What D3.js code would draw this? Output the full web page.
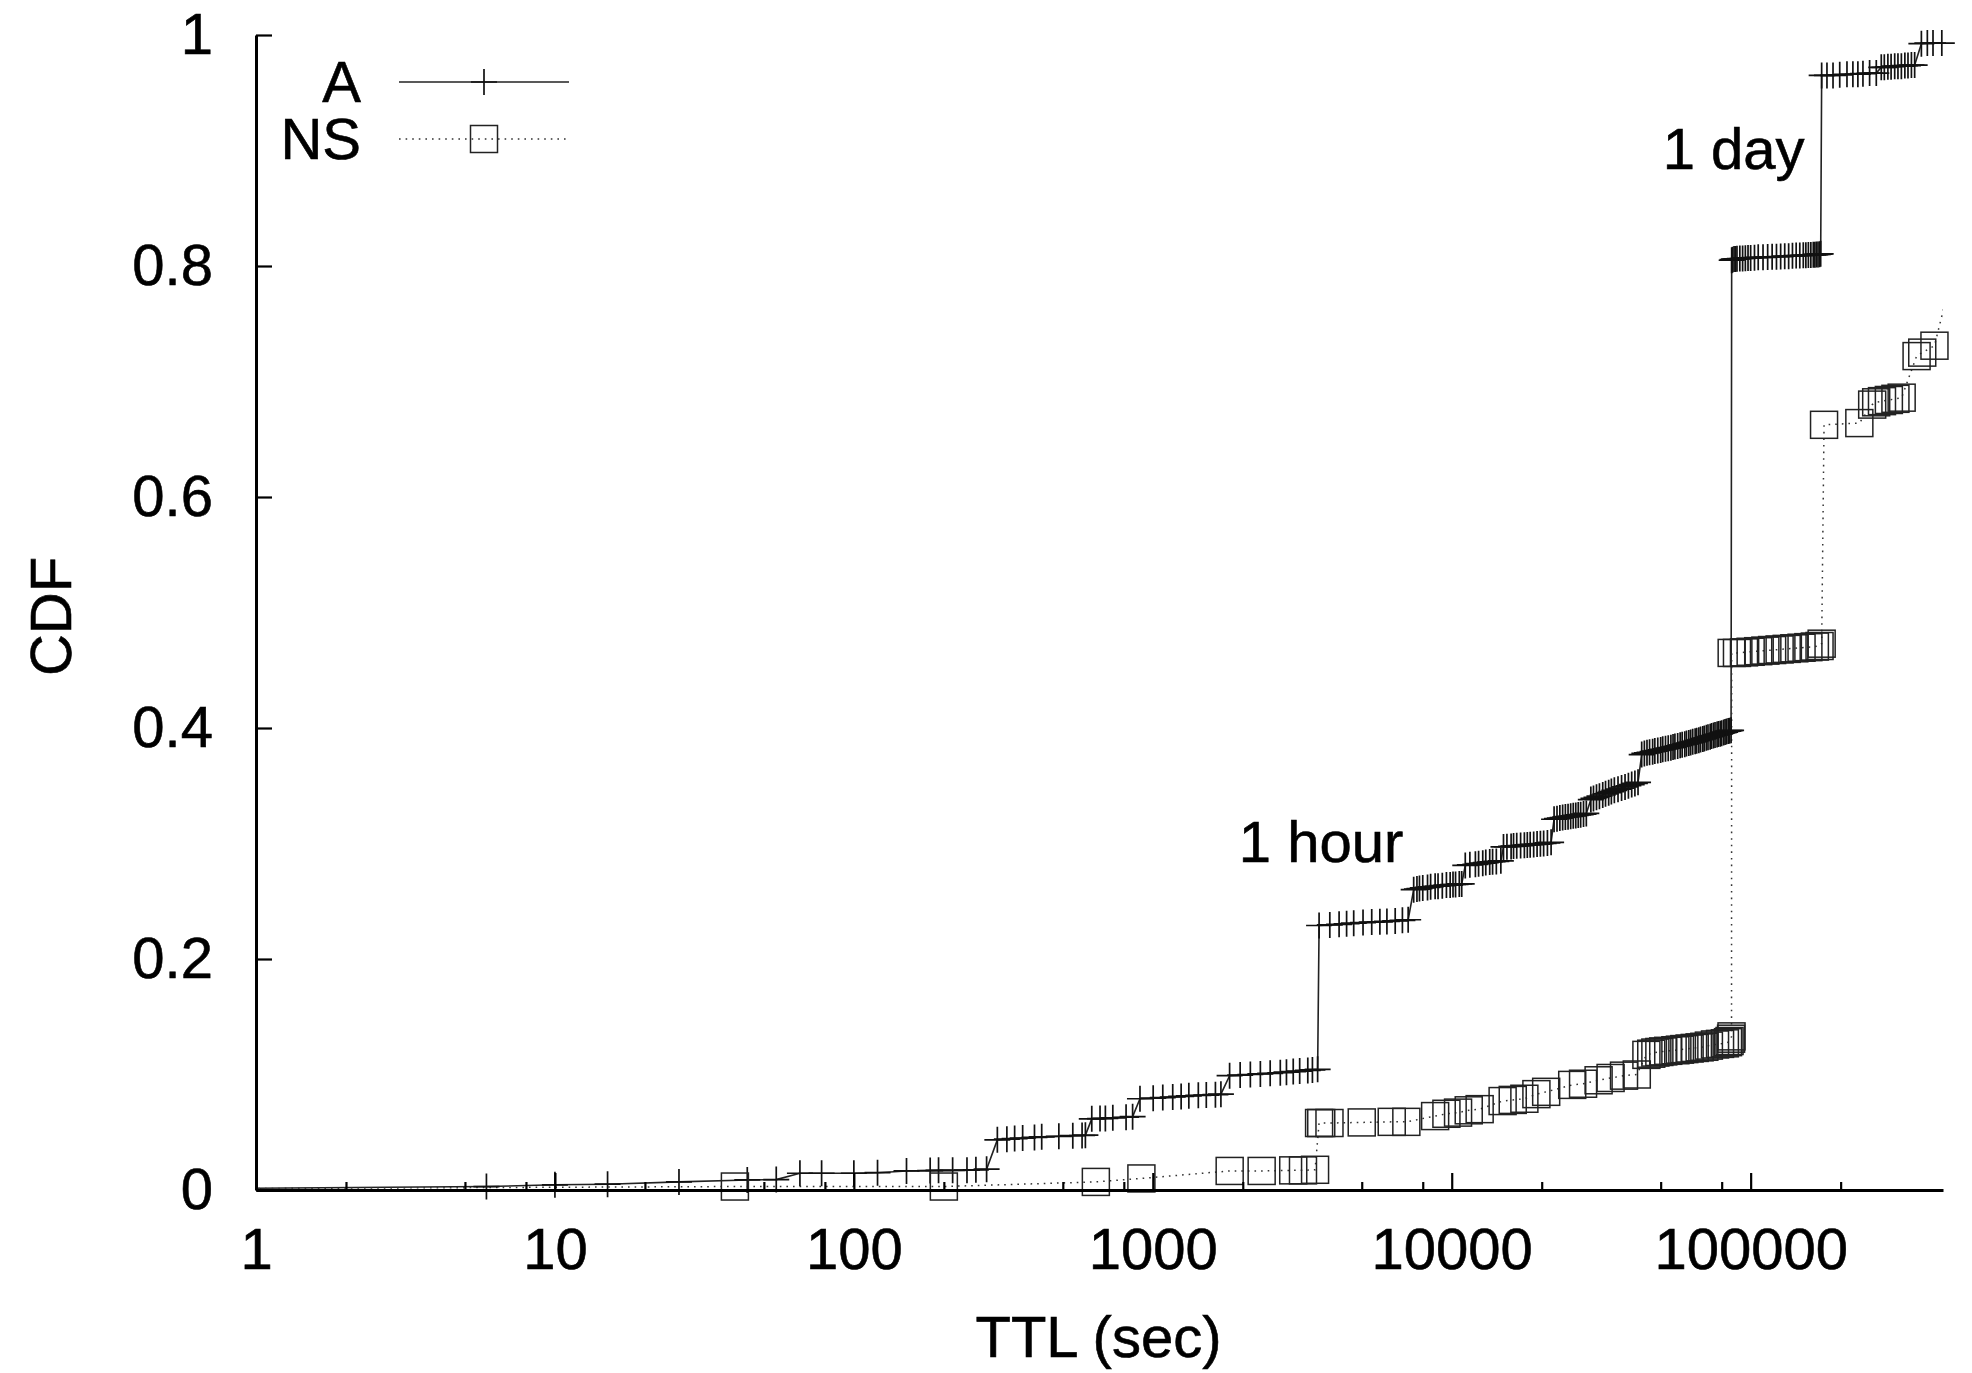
<!DOCTYPE html>
<html>
<head>
<meta charset="utf-8">
<script src="https://cdn.jsdelivr.net/npm/d3@7"></script>
<style>
  html, body { margin: 0; padding: 0; background: #fff; }
  text { font-family: "Liberation Sans", Arial, Helvetica, sans-serif; fill: #000; }
</style>
</head>
<body>
<svg id="chart" width="1972" height="1373"></svg>
<script>
// ---------- data ----------
const seriesNames = ["A", "NS"];

const aTTL = [0.5, 5.9, 10, 15, 26, 44, 55, 66, 78, 100, 120, 150, 180, 192, 214, 239, 256, 278,
  302, 325, 345, 367, 402, 425, 485, 540, 580, 595,
  625, 666, 694, 735, 814, 856,
  906, 1003, 1080, 1166, 1244, 1320, 1420, 1510, 1620, 1690,
  1807, 1960, 2120, 2290, 2470, 2670, 2800, 2950, 3100, 3300, 3420, 3560,
  3600, 3910, 4200, 4450, 4700, 5050, 5400, 5750, 6070, 6470, 6840, 7150,
  7460, 7650, 7800, 8000, 8300, 8500, 8800, 9000, 9300, 9600, 9880, 10100, 10300, 10600, 10800,
  11100, 11500, 12000, 12300, 12700, 13000, 13400, 13700, 14100, 14600,
  14900, 15300, 15800, 16100, 16500, 17000, 17500, 17900, 18300, 18800, 19300, 19800, 20300, 20900, 21500,
  22000, 22500, 23000, 23500, 24000, 24500, 25000, 25500, 26000, 26500, 27000, 27600, 28200,
  29200, 29800, 30500, 31200, 32000, 32700, 33500, 34200, 35000, 36000, 37000, 38000, 39000, 40000, 41000, 42000,
  43200, 44100, 45000, 45900, 47000, 47800, 48900, 50000, 50800, 51900, 53000, 54100, 55000, 55800,
  57000, 58100, 59000, 60200, 61000, 62100, 63000, 64000, 65200, 66000, 67100, 68000, 69200, 70000,
  71100, 72000, 73200, 74000, 75100, 76000, 77200, 78000, 79100, 80000, 81200, 82100, 83000, 84100, 85000, 86000,
  86400, 87000, 88000, 89000, 90000, 92000, 94000, 96000, 98000, 100000, 103000, 106000, 110000, 114000,
  118000, 122000, 126000, 130000, 134000, 138000, 142000, 146000, 150000, 153000, 156000, 159000, 162000,
  164000, 166000, 168000, 170000, 171500,
  172800, 180000, 188600, 198600, 210000, 219800, 228400, 237500, 250000, 263200, 273500, 280000, 287800,
  295000, 303300, 311000, 319300, 328000, 336000, 345000, 353700, 372500, 390000, 407400, 436000];

const aCDF = [0.001, 0.003, 0.0045, 0.005, 0.007, 0.0087, 0.009, 0.0145, 0.0145, 0.0145, 0.015, 0.0165, 0.0168, 0.017, 0.017, 0.0172, 0.0175, 0.018,
  0.0434, 0.044, 0.0445, 0.045, 0.0455, 0.046, 0.0465, 0.047, 0.0472, 0.0475,
  0.0616, 0.0618, 0.062, 0.0625, 0.063, 0.0635,
  0.079, 0.0795, 0.080, 0.0805, 0.081, 0.0815, 0.082, 0.0822, 0.0825, 0.083,
  0.099, 0.0995, 0.100, 0.1005, 0.101, 0.1015, 0.102, 0.1025, 0.103, 0.1035, 0.104, 0.1045,
  0.229, 0.2295, 0.230, 0.2305, 0.231, 0.2315, 0.232, 0.2322, 0.2325, 0.233, 0.2335, 0.234,
  0.260, 0.2605, 0.261, 0.2615, 0.262, 0.2625, 0.263, 0.263, 0.2635, 0.264, 0.264, 0.2645, 0.2645, 0.265, 0.265,
  0.281, 0.2815, 0.282, 0.2825, 0.283, 0.2835, 0.284, 0.2842, 0.2845, 0.285,
  0.297, 0.2972, 0.2975, 0.2978, 0.298, 0.2982, 0.2985, 0.2988, 0.299, 0.2992, 0.2995, 0.2998, 0.300, 0.3005, 0.301,
  0.321, 0.3215, 0.322, 0.3225, 0.323, 0.3232, 0.3235, 0.324, 0.3243, 0.3247, 0.325, 0.3255, 0.326,
  0.338, 0.339, 0.340, 0.341, 0.342, 0.343, 0.344, 0.345, 0.346, 0.347, 0.348, 0.349, 0.350, 0.351, 0.352, 0.353,
  0.377, 0.378, 0.3785, 0.379, 0.3795, 0.380, 0.3805, 0.381, 0.3815, 0.382, 0.3825, 0.383, 0.3835, 0.384,
  0.3845, 0.385, 0.3855, 0.386, 0.3865, 0.387, 0.3875, 0.388, 0.3885, 0.389, 0.3895, 0.390, 0.3905, 0.391,
  0.3915, 0.392, 0.3925, 0.393, 0.3935, 0.394, 0.3943, 0.3947, 0.395, 0.3955, 0.396, 0.3965, 0.397, 0.3973, 0.3977, 0.398,
  0.805, 0.8055, 0.806, 0.806, 0.8062, 0.8065, 0.8065, 0.8068, 0.807, 0.807, 0.8072, 0.8075, 0.8075, 0.8078,
  0.808, 0.808, 0.8082, 0.8085, 0.8085, 0.8088, 0.809, 0.809, 0.8092, 0.8093, 0.8095, 0.8095, 0.8097,
  0.8098, 0.810, 0.810, 0.8102, 0.8105,
  0.965, 0.965, 0.965, 0.9655, 0.966, 0.966, 0.966, 0.9665, 0.967, 0.967, 0.972, 0.972, 0.9725,
  0.9725, 0.973, 0.973, 0.973, 0.9735, 0.9735, 0.974, 0.974, 0.9925, 0.993, 0.993, 0.993];

const nsTTL = [0.5, 40, 200, 645, 916, 1808, 2313, 2950, 3180, 3490,
  3600, 3660, 3900, 5000, 6300, 7050,
  8800, 9600, 10500, 11400, 12400,
  14800, 16000, 17500, 19200, 20700,
  25300, 27500, 31000, 34000, 37700, 41600,
  44800, 46500, 48000, 49500, 51000, 53000, 56000, 58000, 60000, 62500, 65000, 67500, 70000, 72500,
  76000, 79000, 82000, 84000, 85000, 86000, 86300,
  86400, 90000, 95000, 100000, 106000, 112000, 118000, 125000, 132000, 140000,
  148000, 156000, 164000, 170000, 172800,
  176000, 231000, 255000, 263000, 275000, 290000, 305000, 320000, 359000, 375000, 412000, 604800];

const nsCDF = [0.001, 0.003, 0.003, 0.007, 0.010, 0.0165, 0.0165, 0.017, 0.017, 0.0175,
  0.058, 0.058, 0.058, 0.0585, 0.059, 0.059,
  0.064, 0.066, 0.067, 0.069, 0.070,
  0.077, 0.078, 0.079, 0.083, 0.085,
  0.091, 0.092, 0.095, 0.097, 0.099, 0.100,
  0.117, 0.118, 0.119, 0.1195, 0.120, 0.1205, 0.121, 0.1215, 0.122, 0.1225, 0.123, 0.1235, 0.124, 0.125,
  0.126, 0.1265, 0.127, 0.128, 0.129, 0.131, 0.133,
  0.465, 0.465, 0.4655, 0.466, 0.4665, 0.467, 0.4675, 0.468, 0.4685, 0.469,
  0.4695, 0.470, 0.4705, 0.471, 0.473,
  0.6625, 0.664, 0.680, 0.682, 0.683, 0.684, 0.685, 0.686, 0.722, 0.725, 0.731, 0.905];

const xMajorTicks = [1, 10, 100, 1000, 10000, 100000];
const xMajorLabels = ["1", "10", "100", "1000", "10000", "100000"];
const xMinorTicks = [2, 5, 8, 20, 50, 80, 200, 500, 800, 2000, 5000, 8000, 20000, 50000, 80000, 200000];
const yTicks = [0, 0.2, 0.4, 0.6, 0.8, 1];
const yTickLabels = ["0", "0.2", "0.4", "0.6", "0.8", "1"];
const xDomain = [1, 440000];
const xTitle = "TTL (sec)";
const yTitle = "CDF";
const notes = [{ text: "1 hour", ttl: 1940, cdf: 0.284 }, { text: "1 day", ttl: 50800, cdf: 0.8837 }];

// ---------- layout ----------
const svg = d3.select("#chart");
const mLeft = 256, mRight = 1943, mTop = 35, mBottom = 1190;
const FONT = 58;

const x = d3.scaleLog().domain(xDomain).range([mLeft, mRight]);
const y = d3.scaleLinear().domain([0, 1]).range([mBottom, mTop]);

svg.append("rect").attr("width", 1972).attr("height", 1373).attr("fill", "#fff");

svg.append("defs").append("clipPath").attr("id", "plotclip")
  .append("rect").attr("x", mLeft).attr("y", 0).attr("width", mRight - mLeft).attr("height", mBottom);

const aData = d3.zip(aTTL, aCDF);
const nsData = d3.zip(nsTTL, nsCDF);
const inRange = d => d[0] >= xDomain[0] && d[0] <= xDomain[1];

const line = d3.line().x(d => x(d[0])).y(d => y(d[1]));
const plot = svg.append("g").attr("clip-path", "url(#plotclip)");

// A series
plot.append("path").datum(aData).attr("d", line)
  .attr("fill", "none").attr("stroke", "#222").attr("stroke-width", 1.6);
const plusPath = "M-13,0H13M0,-13V13";
svg.append("g").selectAll("path").data(aData.filter(inRange)).join("path")
  .attr("transform", d => `translate(${x(d[0])},${y(d[1])})`)
  .attr("d", plusPath).attr("fill", "none").attr("stroke", "#111").attr("stroke-width", 1.7);

// NS series
plot.append("path").datum(nsData).attr("d", line)
  .attr("fill", "none").attr("stroke", "#333").attr("stroke-width", 1.5)
  .attr("stroke-dasharray", "1.6,5");
svg.append("g").selectAll("rect").data(nsData.filter(inRange)).join("rect")
  .attr("x", d => x(d[0]) - 13.5).attr("y", d => y(d[1]) - 13.5)
  .attr("width", 27).attr("height", 27)
  .attr("fill", "none").attr("stroke", "#222").attr("stroke-width", 1.5);

// ---------- axes ----------
const xAxis = d3.axisBottom(x).tickValues(xMajorTicks)
  .tickFormat((d, i) => xMajorLabels[i])
  .tickSizeInner(-17).tickSizeOuter(0).tickPadding(38);
const gx = svg.append("g").attr("transform", `translate(0,${mBottom})`).call(xAxis);
gx.select(".domain").attr("stroke", "#000").attr("stroke-width", 3);
gx.selectAll(".tick line").attr("stroke", "#000").attr("stroke-width", 2.2);
gx.selectAll(".tick text").attr("font-size", FONT).attr("font-family", "Liberation Sans, Arial, sans-serif")
  .attr("stroke", "#000").attr("stroke-width", 0.6);

const xMinorAxis = d3.axisBottom(x).tickValues(xMinorTicks).tickFormat("")
  .tickSizeInner(-8).tickSizeOuter(0);
const gxm = svg.append("g").attr("transform", `translate(0,${mBottom})`).call(xMinorAxis);
gxm.select(".domain").remove();
gxm.selectAll(".tick line").attr("stroke", "#000").attr("stroke-width", 2.2);

const yAxis = d3.axisLeft(y).tickValues(yTicks)
  .tickFormat((d, i) => yTickLabels[i])
  .tickSizeInner(-16).tickSizeOuter(0).tickPadding(43);
const gy = svg.append("g").attr("transform", `translate(${mLeft},0)`).call(yAxis);
gy.select(".domain").attr("stroke", "#000").attr("stroke-width", 3);
gy.selectAll(".tick line").attr("stroke", "#000").attr("stroke-width", 2.2);
gy.selectAll(".tick text").attr("font-size", FONT).attr("font-family", "Liberation Sans, Arial, sans-serif")
  .attr("stroke", "#000").attr("stroke-width", 0.6);

// titles
svg.append("text").attr("x", (mLeft + mRight) / 2 - 1).attr("y", 1357)
  .attr("text-anchor", "middle").attr("font-size", FONT)
  .attr("stroke", "#000").attr("stroke-width", 0.6).text(xTitle);
svg.append("text").attr("transform", `translate(71,${(mTop + mBottom) / 2 + 4}) rotate(-90)`)
  .attr("text-anchor", "middle").attr("font-size", FONT)
  .attr("stroke", "#000").attr("stroke-width", 0.6).text(yTitle);

// annotations
svg.append("g").selectAll("text").data(notes).join("text")
  .attr("x", d => x(d.ttl)).attr("y", d => y(d.cdf))
  .attr("font-size", FONT).attr("stroke", "#000").attr("stroke-width", 0.6).text(d => d.text);

// ---------- legend ----------
const legend = svg.append("g");
const legY = [82, 139];
legend.selectAll("text").data(seriesNames).join("text")
  .attr("x", 361).attr("y", (d, i) => legY[i] + 20)
  .attr("text-anchor", "end").attr("font-size", FONT)
  .attr("stroke", "#000").attr("stroke-width", 0.6).text(d => d);
legend.append("line").attr("x1", 399).attr("x2", 569).attr("y1", legY[0]).attr("y2", legY[0])
  .attr("stroke", "#222").attr("stroke-width", 1.6);
legend.append("path").attr("transform", `translate(484,${legY[0]})`).attr("d", plusPath)
  .attr("fill", "none").attr("stroke", "#111").attr("stroke-width", 1.7);
legend.append("line").attr("x1", 399).attr("x2", 569).attr("y1", legY[1]).attr("y2", legY[1])
  .attr("stroke", "#333").attr("stroke-width", 1.5).attr("stroke-dasharray", "1.6,5");
legend.append("rect").attr("x", 484 - 13.5).attr("y", legY[1] - 13.5).attr("width", 27).attr("height", 27)
  .attr("fill", "none").attr("stroke", "#222").attr("stroke-width", 1.5);
</script>
</body>
</html>
